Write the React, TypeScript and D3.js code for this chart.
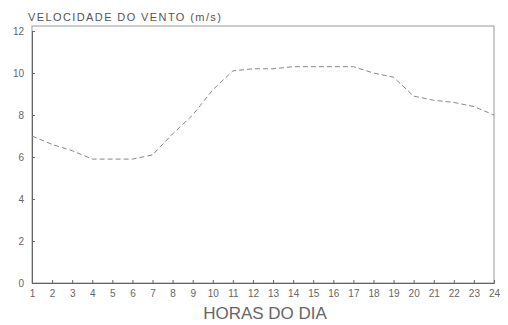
import React, { useEffect, useRef } from 'react';
import * as d3 from 'd3';

// horas do dia e velocidade média do vento (m/s)
const horas = [1, 2, 3, 4, 5, 6, 7, 8, 9, 10, 11, 12, 13, 14, 15, 16, 17, 18, 19, 20, 21, 22, 23, 24];
const velocidade = [7.0, 6.6, 6.3, 5.9, 5.9, 5.9, 6.1, 7.1, 8.0, 9.2, 10.1, 10.2, 10.2, 10.3, 10.3, 10.3, 10.3, 10.0, 9.8, 8.9, 8.7, 8.6, 8.4, 8.0];
const yTicks = [0, 2, 4, 6, 8, 10, 12];

const App = () => {
    const ref = useRef<SVGSVGElement>(null);

    useEffect(() => {
        const w = 508, h = 325;
        const margin = { top: 31, right: 14, bottom: 42, left: 32 };
        const svg = d3.select(ref.current);
        svg.selectAll('*').remove();

        const x = d3.scaleLinear().domain([1, 24]).range([margin.left, w - margin.right]);
        const y = d3.scaleLinear().domain([0, 12]).range([h - margin.bottom, margin.top]);
        const ink = '#666';

        // moldura
        svg.append('rect')
            .attr('x', x(1)).attr('y', y(12) - 5)
            .attr('width', x(24) - x(1)).attr('height', y(0) - y(12) + 5)
            .attr('fill', 'none').attr('stroke', '#999').attr('stroke-width', 1);

        const yAxis = svg.append('g')
            .attr('transform', `translate(${x(1)},0)`)
            .call(d3.axisRight(y).tickValues(yTicks).tickSize(3).tickFormat(d3.format('d')));
        yAxis.select('.domain').attr('stroke', ink);
        yAxis.selectAll('line').attr('stroke', ink);
        yAxis.selectAll('text')
            .attr('x', -8).attr('text-anchor', 'end')
            .attr('fill', ink).style('font-family', 'Liberation Sans, Arial, sans-serif').style('font-size', '10px');

        const xAxis = svg.append('g')
            .attr('transform', `translate(0,${y(0)})`)
            .call(d3.axisTop(x).tickValues(horas).tickSize(3).tickFormat(d3.format('d')));
        xAxis.select('.domain').attr('stroke', ink);
        xAxis.selectAll('line').attr('stroke', ink);
        xAxis.selectAll('text')
            .attr('y', 14).attr('dy', '0')
            .attr('fill', ink).style('font-family', 'Liberation Sans, Arial, sans-serif').style('font-size', '10px');

        const line = d3.line<number>()
            .x((d, i) => x(horas[i]))
            .y(d => y(d));

        svg.append('path')
            .datum(velocidade)
            .attr('d', line)
            .attr('fill', 'none')
            .attr('stroke', '#888')
            .attr('stroke-width', 1)
            .attr('stroke-dasharray', '5,3');

        svg.append('text')
            .attr('x', 28).attr('y', 21)
            .attr('fill', '#555')
            .style('font-family', 'Liberation Sans, Arial, sans-serif')
            .style('font-size', '11px')
            .style('letter-spacing', '1.4px')
            .text('VELOCIDADE DO VENTO (m/s)');

        svg.append('text')
            .attr('x', 265).attr('y', 319)
            .attr('text-anchor', 'middle')
            .attr('fill', '#666')
            .style('font-family', 'Liberation Sans, Arial, sans-serif')
            .style('font-size', '17px')
            .text('HORAS DO DIA');
    }, []);

    return (
        <div style={{ position: 'absolute', left: 0, top: 0, background: '#fff' }}>
            <svg ref={ref} width={508} height={325}></svg>
        </div>
    );
};

export default App;
